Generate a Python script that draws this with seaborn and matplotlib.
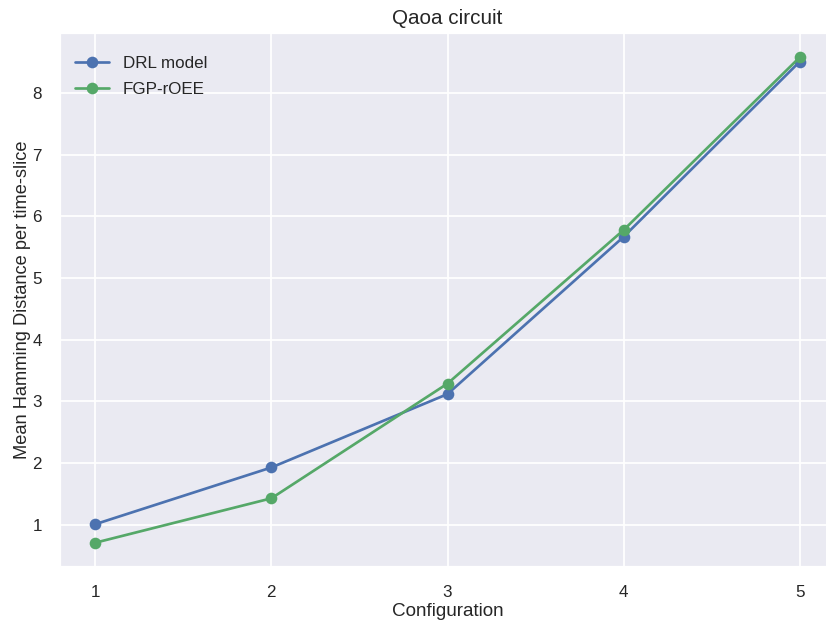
import pandas as pd
import matplotlib.pyplot as plt
import seaborn as sns

# values
configs = [1, 2, 3, 4, 5]
drl_model = [1.01, 1.93, 3.12, 5.67, 8.51]
fgp_roee = [0.71, 1.43, 3.29, 5.78, 8.58]

df = pd.DataFrame({
    'Configuration': configs * 2,
    'value': drl_model + fgp_roee,
    'method': ['DRL model'] * len(configs) + ['FGP-rOEE'] * len(configs),
})

sns.set_theme(style="darkgrid")
plt.rcParams['font.family'] = ['Liberation Sans', 'DejaVu Sans']

DPI = 129
fig, ax = plt.subplots(figsize=(826 / DPI, 621 / DPI), dpi=DPI)
sns.lineplot(data=df, x='Configuration', y='value', hue='method',
             palette=['#4c72b0', '#55a868'], marker='o', markersize=6.5,
             markeredgewidth=0, linewidth=1.5, ax=ax)

ax.set_title('Qaoa circuit', fontsize=11.5, pad=5)
ax.set_xlabel('Configuration', fontsize=10.5, labelpad=2)
ax.set_ylabel('Mean Hamming Distance per time-slice', fontsize=10.2, labelpad=1)
ax.set_xticks(configs)
ax.tick_params(labelsize=9.5, pad=4)
ax.legend(title=None, loc='upper left', bbox_to_anchor=(0.0, 0.985),
          frameon=False, fontsize=9.5, labelspacing=0.6)

fig.subplots_adjust(left=60 / 826, right=835 / 826, top=1 - 33 / 621, bottom=1 - 567 / 621)
plt.savefig('out.png', dpi=DPI)
